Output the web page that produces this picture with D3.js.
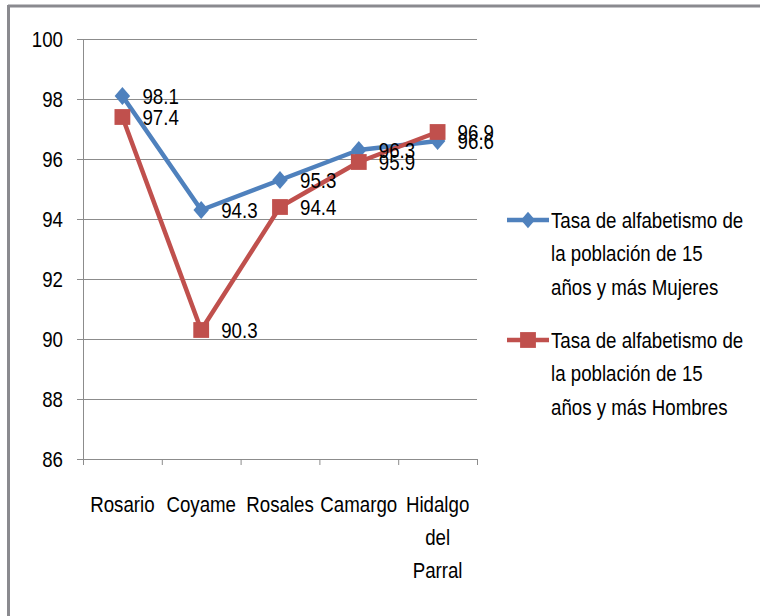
<!DOCTYPE html>
<html><head><meta charset="utf-8">
<script src="https://cdn.jsdelivr.net/npm/d3@7"></script>
<style>
html,body{margin:0;padding:0;background:#fff;}
svg text{font-family:"Liberation Sans",Arial,sans-serif;fill:#000;}
</style></head>
<body>
<svg id="c" width="760" height="616"></svg>
<script>
const categories = ["Rosario","Coyame","Rosales","Camargo","Hidalgo del Parral"];
const mujeres = [98.1, 94.3, 95.3, 96.3, 96.6];
const hombres = [97.4, 90.3, 94.4, 95.9, 96.9];
const yTicks = [86, 88, 90, 92, 94, 96, 98, 100];
const seriesNames = ["Tasa de alfabetismo de la población de 15 años y más Mujeres",
                     "Tasa de alfabetismo de la población de 15 años y más Hombres"];
const legendLines = [["Tasa de alfabetismo de","la población de 15","años y más Mujeres"],
                     ["Tasa de alfabetismo de","la población de 15","años y más Hombres"]];
const xLabelLines = [["Rosario"],["Coyame"],["Rosales"],["Camargo"],["Hidalgo","del","Parral"]];

const svg = d3.select("#c");
const m = {left:83, right:477, top:39, bottom:459};
const blue = "#4F81BD", red = "#C0504D", grid = "#8c8c8c";
const FS = 22, SX = 0.85;

function txt(g, x0, y0, s, anchor){
  return g.append("text").attr("transform",`translate(${x0},${y0}) scale(${SX},1)`)
    .attr("text-anchor",anchor||"start").attr("dy","0.35em").attr("font-size",FS).text(s);
}

// Excel-like diamond (slightly taller than wide)
const excelDiamond = {
  draw(ctx, size){
    const h = Math.sqrt(size)/2*1.15, w = Math.sqrt(size)/2;
    ctx.moveTo(0,-h); ctx.lineTo(w,0); ctx.lineTo(0,h); ctx.lineTo(-w,0); ctx.closePath();
  }
};

// frame
svg.append("line").attr("x1",8).attr("x2",760).attr("y1",6).attr("y2",6).attr("stroke","#8a8a8f").attr("stroke-width",3);
svg.append("line").attr("x1",8.5).attr("x2",8.5).attr("y1",5).attr("y2",616).attr("stroke","#8a8a8f").attr("stroke-width",3);

const x = d3.scaleBand().domain(categories).range([m.left, m.right]).paddingInner(0).paddingOuter(0);
const y = d3.scaleLinear().domain([86,100]).range([m.bottom, m.top]);
const cx = d => x(d) + x.bandwidth()/2;

// gridlines
svg.append("g").selectAll("line").data(yTicks.filter(t=>t>86)).join("line")
  .attr("x1",m.left).attr("x2",m.right).attr("y1",d=>y(d)+0.5).attr("y2",d=>y(d)+0.5)
  .attr("stroke",grid).attr("stroke-width",1);

// y axis
const ya = svg.append("g").attr("transform",`translate(${m.left},0)`)
  .call(d3.axisLeft(y).tickValues(yTicks).tickSize(6).tickFormat(""));
ya.select(".domain").attr("stroke",grid);
ya.selectAll(".tick line").attr("stroke",grid);
const yl = svg.append("g");
yTicks.forEach(t=>txt(yl, 63, y(t), d3.format("d")(t), "end"));

// x axis
const xa = svg.append("g").attr("transform",`translate(0,${m.bottom})`)
  .call(d3.axisBottom(x).tickSize(0).tickFormat(""));
xa.select(".domain").attr("stroke",grid).attr("d",`M${m.left},0.5H${m.right}`);
svg.append("g").selectAll("line").data(categories.map(c=>x(c)).concat([m.right])).join("line")
  .attr("x1",d=>d+0.5).attr("x2",d=>d+0.5).attr("y1",m.bottom).attr("y2",m.bottom+6)
  .attr("stroke",grid);
const xl = svg.append("g");
categories.forEach((c,i)=>{
  xLabelLines[i].forEach((ln,j)=>txt(xl, cx(c), 504+j*33, ln, "middle"));
});

const line = d3.line().x((d,i)=>cx(categories[i])).y(d=>y(d));
function drawSeries(vals,color,sym,size){
  svg.append("path").datum(vals).attr("d",line).attr("fill","none").attr("stroke",color).attr("stroke-width",4.5).attr("stroke-linejoin","round");
  svg.append("g").selectAll("path").data(vals).join("path")
    .attr("transform",(d,i)=>`translate(${cx(categories[i])},${y(d)})`)
    .attr("d",d3.symbol().type(sym).size(size)).attr("fill",color);
}
drawSeries(mujeres, blue, excelDiamond, 240);
drawSeries(hombres, red, d3.symbolSquare, 250);

function drawLabels(vals){
  const g = svg.append("g");
  vals.forEach((d,i)=>txt(g, cx(categories[i])+20, y(d), d3.format(".1f")(d)));
}
drawLabels(mujeres);
drawLabels(hombres);

// legend
const lg = svg.append("g");
[[blue,excelDiamond,200],[red,d3.symbolSquare,250]].forEach((s,k)=>{
  const ly = 220 + k*120;
  lg.append("line").attr("x1",507).attr("x2",549).attr("y1",ly).attr("y2",ly).attr("stroke",s[0]).attr("stroke-width",4.5);
  lg.append("path").attr("transform",`translate(528,${ly})`).attr("d",d3.symbol().type(s[1]).size(s[2])).attr("fill",s[0]);
  legendLines[k].forEach((t,j)=>txt(lg, 551, ly+j*33.5, t));
});
</script>
</body></html>
